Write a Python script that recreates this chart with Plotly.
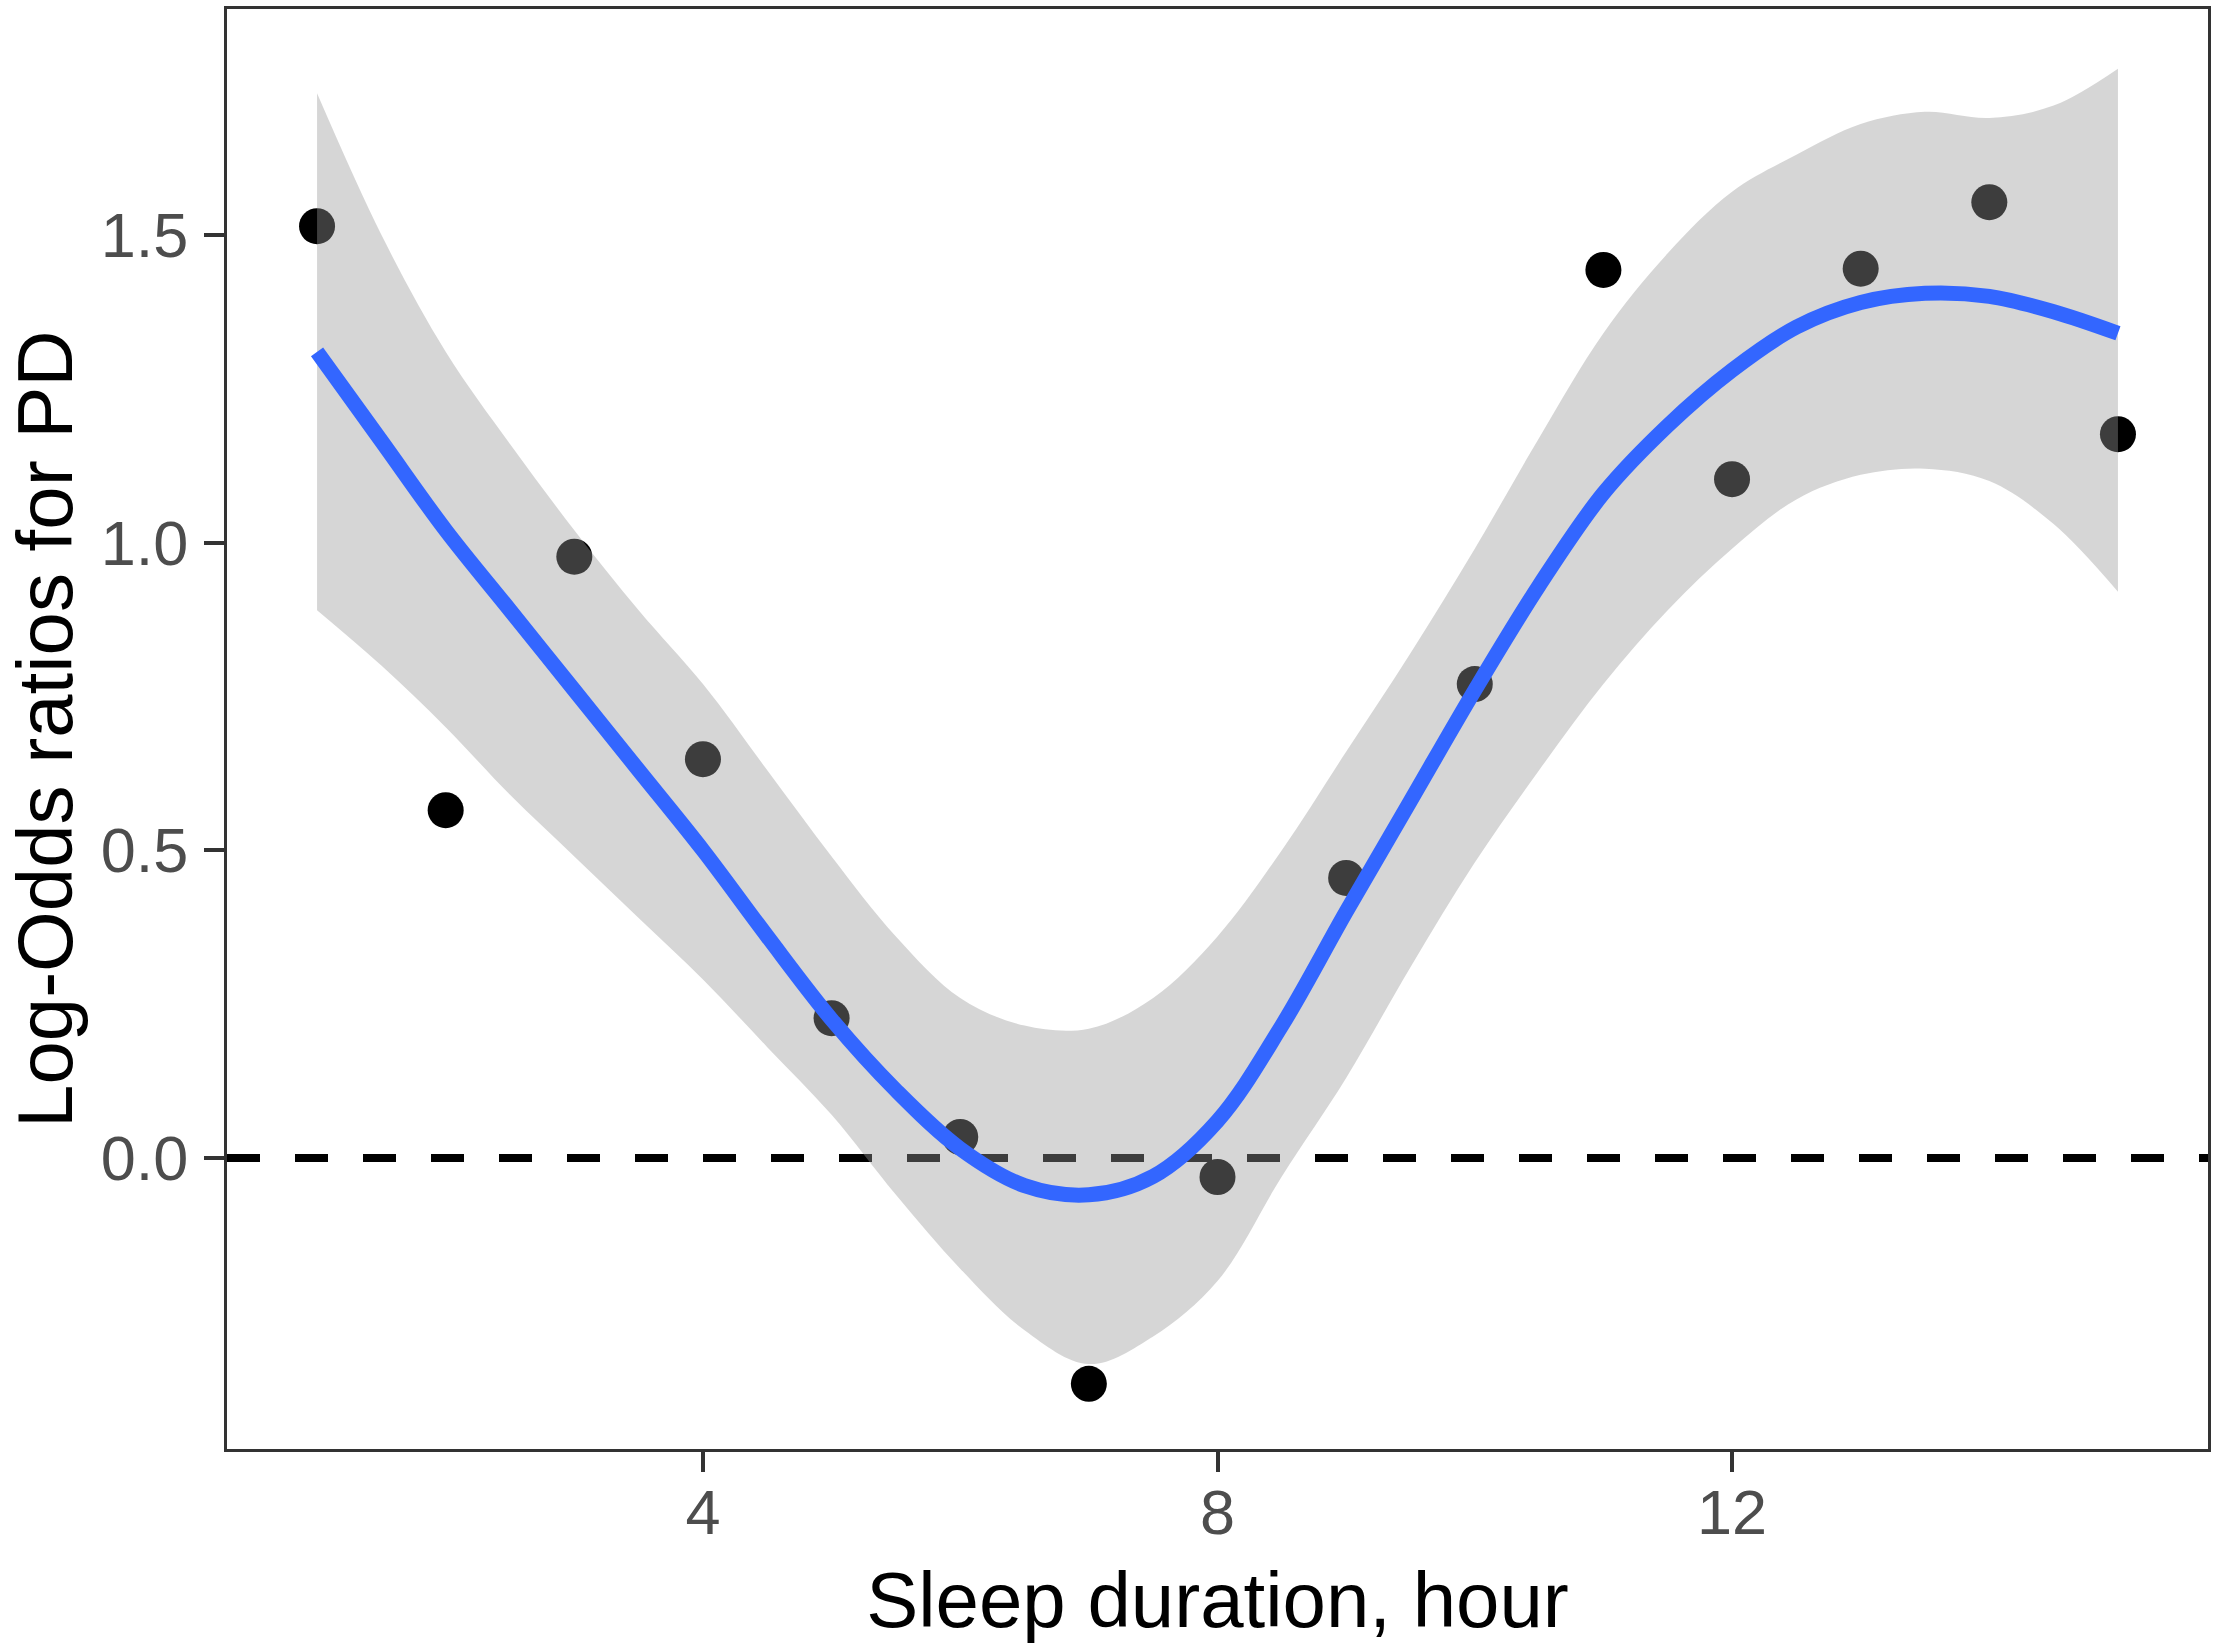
import plotly.graph_objects as go

# Observed points (sleep duration, log-odds)
sleep_hours = [1, 2, 3, 4, 5, 6, 7, 8, 9, 10, 11, 12, 13, 14, 15]
log_odds = [1.514, 0.565, 0.977, 0.648, 0.227, 0.034, -0.367, -0.031, 0.455,
            0.770, 1.443, 1.103, 1.445, 1.553, 1.176]

# Smooth fit and its confidence band at half-hour steps
fit_x = [1, 1.5, 2, 2.5, 3, 3.5, 4, 4.5, 5, 5.5, 6, 6.5, 7, 7.5, 8, 8.5, 9,
         9.5, 10, 10.5, 11, 11.5, 12, 12.5, 13, 13.5, 14, 14.5, 15]
fit_y = [1.31, 1.165, 1.02, 0.89, 0.76, 0.63, 0.50, 0.36, 0.225, 0.11, 0.015,
         -0.045, -0.060, -0.030, 0.060, 0.215, 0.40, 0.58, 0.76, 0.93, 1.08,
         1.19, 1.28, 1.35, 1.39, 1.405, 1.40, 1.375, 1.34]
band_upper = [1.73, 1.50, 1.31, 1.16, 1.02, 0.89, 0.77, 0.63, 0.49, 0.36, 0.26,
              0.215, 0.21, 0.26, 0.36, 0.50, 0.66, 0.82, 0.99, 1.17, 1.34,
              1.47, 1.57, 1.63, 1.68, 1.70, 1.69, 1.71, 1.77]
band_lower = [0.89, 0.80, 0.70, 0.59, 0.49, 0.39, 0.29, 0.18, 0.07, -0.06,
              -0.18, -0.28, -0.335, -0.29, -0.20, -0.03, 0.13, 0.31, 0.48,
              0.63, 0.77, 0.89, 0.99, 1.07, 1.11, 1.12, 1.10, 1.03, 0.92]

x_ticks = [4, 8, 12]
y_ticks = [0.0, 0.5, 1.0, 1.5]
ref_level = 0.0
x_title = "Sleep duration, hour"
y_title = "Log-Odds ratios for PD"

FONT = "Liberation Sans, Arial, sans-serif"

fig = go.Figure()

# points (drawn first so the translucent band tints them)
fig.add_trace(go.Scatter(
    x=sleep_hours, y=log_odds, mode="markers",
    marker=dict(size=36, color="black", line=dict(width=0)),
    showlegend=False, hoverinfo="skip"))

# confidence band: lower edge then upper edge filled to it
fig.add_trace(go.Scatter(
    x=fit_x, y=band_lower, mode="lines",
    line=dict(width=0, shape="spline", smoothing=1.0, color="rgba(0,0,0,0)"),
    showlegend=False, hoverinfo="skip"))
fig.add_trace(go.Scatter(
    x=fit_x, y=band_upper, mode="lines",
    line=dict(width=0, shape="spline", smoothing=1.0, color="rgba(0,0,0,0)"),
    fill="tonexty", fillcolor="rgba(153,153,153,0.4)",
    showlegend=False, hoverinfo="skip"))

# fitted curve
fig.add_trace(go.Scatter(
    x=fit_x, y=fit_y, mode="lines",
    line=dict(color="#3366FF", width=15, shape="spline", smoothing=1.0),
    showlegend=False, hoverinfo="skip"))

fig.add_shape(type="line", xref="paper", yref="y", x0=0, x1=1,
              y0=ref_level, y1=ref_level, layer="below",
              line=dict(color="black", width=8, dash="33px,35px"))

# y-axis title as a rotated annotation (it sits close to the page edge)
fig.add_annotation(text=y_title, xref="paper", yref="paper", x=0, y=0.5,
                   xanchor="center", yanchor="middle", xshift=-182,
                   textangle=-90, showarrow=False, borderpad=0,
                   font=dict(family=FONT, size=78, color="black"))

axis_common = dict(
    showgrid=False, zeroline=False, showline=True, mirror=True,
    linecolor="#333333", linewidth=3, automargin=False,
    ticks="outside", ticklen=20, tickwidth=4, tickcolor="#333333",
    tickfont=dict(family=FONT, size=63, color="#4D4D4D"),
)

fig.update_layout(
    width=2217, height=1646,
    margin=dict(l=227, r=9, t=9, b=197),
    paper_bgcolor="white", plot_bgcolor="white",
    xaxis=dict(range=[0.3, 15.7], tickvals=x_ticks,
               ticktext=[str(v) for v in x_ticks],
               ticklabelstandoff=-14,
               title=dict(text=x_title, standoff=27,
                          font=dict(family=FONT, size=78, color="black")),
               **axis_common),
    yaxis=dict(range=[-0.473, 1.867], tickvals=y_ticks,
               ticktext=[f"{v:.1f}" for v in y_ticks],
               ticklabelstandoff=3,
               **axis_common),
)

# remove the default page margin so the figure fills the window exactly
fig.write_html("out.html",
               config={"displayModeBar": False, "staticPlot": True},
               post_script="document.body.style.margin='0';"
                           "document.body.style.overflow='hidden';")
